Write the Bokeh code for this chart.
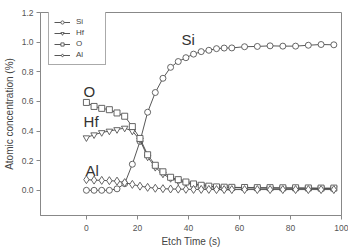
from bokeh.plotting import figure
from bokeh.models import Range1d, FixedTicker, Legend, LegendItem, NumeralTickFormatter
from bokeh.embed import file_html
from bokeh.resources import INLINE
from bokeh.core.properties import value

# ---- data ----
etch_time = [0, 3, 6, 9, 12, 15, 18, 21, 24, 27, 30, 33, 36, 39, 42, 45, 48, 51, 54, 57,
             62, 67, 72, 77, 82, 87, 92, 97]
si = [0.0, 0.0, 0.0, 0.0, 0.01, 0.045, 0.176, 0.33, 0.527, 0.66, 0.756, 0.83, 0.869, 0.895,
      0.919, 0.936, 0.945, 0.956, 0.96, 0.961, 0.969, 0.971, 0.975, 0.973, 0.973, 0.979,
      0.984, 0.982]
hf = [0.355, 0.375, 0.39, 0.40, 0.41, 0.42, 0.40, 0.34, 0.225, 0.155, 0.11, 0.08, 0.063,
      0.05, 0.04, 0.032, 0.027, 0.022, 0.02, 0.018, 0.016, 0.015, 0.014, 0.014, 0.013,
      0.013, 0.012, 0.012]
o = [0.593, 0.566, 0.553, 0.544, 0.522, 0.50, 0.43, 0.35, 0.24, 0.169, 0.125, 0.088, 0.072,
     0.056, 0.043, 0.034, 0.028, 0.023, 0.021, 0.02, 0.019, 0.018, 0.018, 0.017, 0.017,
     0.016, 0.015, 0.015]
al = [0.072, 0.069, 0.067, 0.065, 0.062, 0.052, 0.04, 0.028, 0.02, 0.014, 0.011, 0.009,
      0.008, 0.007, 0.006, 0.006, 0.006, 0.005, 0.005, 0.005, 0.005, 0.005, 0.005, 0.005,
      0.005, 0.005, 0.005, 0.005]

series_names = ["Si", "Hf", "O", "Al"]
x_ticks = [0, 20, 40, 60, 80, 100]
y_ticks = [0.0, 0.2, 0.4, 0.6, 0.8, 1.0, 1.2]

# in-plot annotations
ann_text = ["Si", "O", "Hf", "Al"]
ann_x = [37.3, -1.1, -1.1, -0.4]
ann_y = [1.02, 0.665, 0.465, 0.135]

FONT = "Liberation Sans"
GRAY = "#888888"

p = figure(width=348, height=250, output_backend="svg", toolbar_location=None,
           x_range=Range1d(-18, 100), y_range=Range1d(-0.17, 1.2),
           min_border_left=40, min_border_right=7, min_border_top=12, min_border_bottom=35)

p.xgrid.visible = False
p.ygrid.visible = False
p.outline_line_color = GRAY
p.outline_line_width = 1
p.background_fill_color = "white"
p.border_fill_color = "white"

for ax in (p.xaxis[0], p.yaxis[0]):
    ax.axis_line_color = GRAY
    ax.major_tick_line_color = GRAY
    ax.minor_tick_line_color = None
    ax.major_tick_out = 4
    ax.major_tick_in = 0
    ax.major_label_standoff = 3
    ax.major_label_text_font = FONT
    ax.major_label_text_font_size = "8.5px"
    ax.major_label_text_color = "#555555"
    ax.axis_label_text_font = FONT
    ax.axis_label_text_font_size = "10px"
    ax.axis_label_text_font_style = "normal"
    ax.axis_label_text_color = "#444444"

p.xaxis[0].ticker = FixedTicker(ticks=x_ticks)
p.yaxis[0].ticker = FixedTicker(ticks=y_ticks)
p.yaxis[0].formatter = NumeralTickFormatter(format="0.0")
p.xaxis[0].axis_label = "Etch Time (s)"
p.yaxis[0].axis_label = "Atomic concentration (%)"
p.xaxis[0].major_label_standoff = 5
p.xaxis[0].axis_label_standoff = 2
p.yaxis[0].axis_label_standoff = 4

markers = {"Si": ("circle", 6), "Hf": ("inverted_triangle", 6.5), "O": ("square", 6), "Al": ("diamond", 8)}
data = {"Si": si, "Hf": hf, "O": o, "Al": al}

items = []
for name in series_names:
    ys = data[name]
    mk, sz = markers[name]
    lr = p.line(etch_time, ys, line_color="#444444", line_width=0.9)
    sr = p.scatter(etch_time, ys, marker=mk, size=sz, fill_color="white",
                   line_color="#555555", line_width=0.9)
    items.append(LegendItem(label=name, renderers=[lr, sr]))

p.text(x=ann_x, y=ann_y, text=ann_text, text_font=value(FONT), text_font_size="15px",
       text_color="#333333", text_baseline="alphabetic", text_align="left")

legend = Legend(items=items, location=(8, 150), orientation="vertical",
                label_text_font=FONT, label_text_font_size="8px", label_text_color="#444444",
                label_height=8, glyph_height=8, glyph_width=16, spacing=2, padding=5,
                label_standoff=6, label_width=24, margin=0,
                border_line_color="#555555", border_line_width=1,
                background_fill_color="white", background_fill_alpha=1.0)
p.add_layout(legend, "center")

open("out.html", "w").write(file_html(p, INLINE))
